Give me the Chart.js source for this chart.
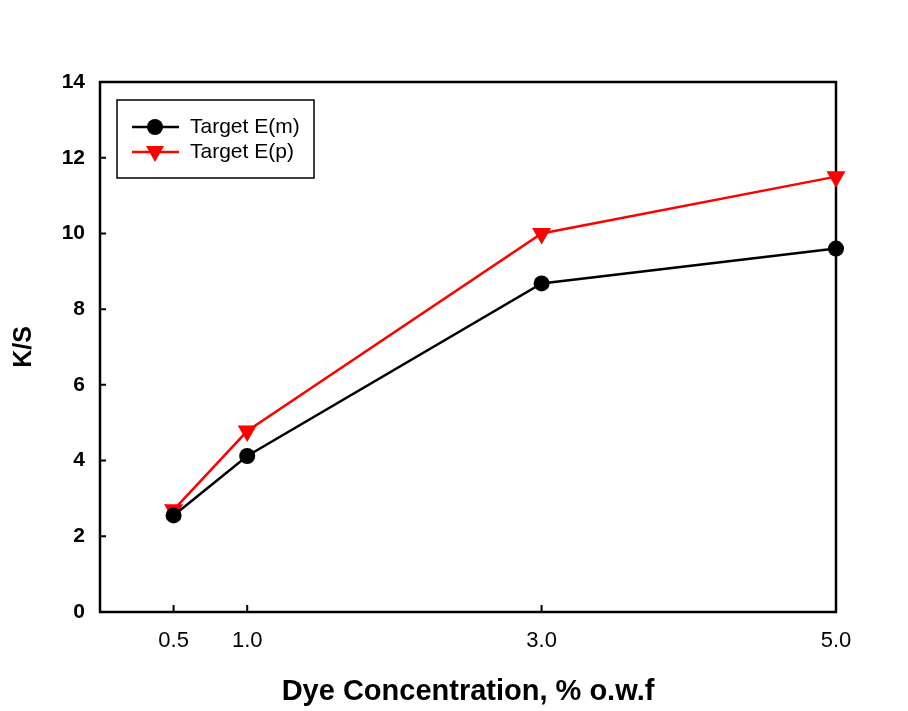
<!DOCTYPE html>
<html>
<head>
<meta charset="utf-8">
<script src="https://cdn.jsdelivr.net/npm/chart.js@4.4.0/dist/chart.umd.min.js"></script>
<style>
  html, body { margin: 0; padding: 0; background: #fff; }
  #wrap { width: 908px; height: 711px; }
</style>
</head>
<body>
<div id="wrap"><canvas id="c" width="908" height="711"></canvas></div>
<script>
// data
const concentrations = [0.5, 1.0, 3.0, 5.0];
const targetEm = [2.55, 4.12, 8.68, 9.6];
const targetEp = [2.7, 4.78, 10.0, 11.5];
const xTickValues = [0.5, 1.0, 3.0, 5.0];
const yTickValues = [0, 2, 4, 6, 8, 10, 12, 14];

const toPoints = (xs, ys) => xs.map((x, i) => ({ x: x, y: ys[i] }));

// frame, inward ticks and legend box
const framePlugin = {
    id: 'frame',
    beforeDatasetsDraw(chart) {
        const { ctx, chartArea: a, scales } = chart;
        ctx.save();
        ctx.strokeStyle = '#000';
        ctx.lineWidth = 2.5;
        ctx.strokeRect(a.left, a.top, a.right - a.left, a.bottom - a.top);

        ctx.lineWidth = 2;
        ctx.beginPath();
        xTickValues.forEach(v => {
            const px = scales.x.getPixelForValue(v);
            ctx.moveTo(px, a.bottom);
            ctx.lineTo(px, a.bottom - 7);
        });
        yTickValues.forEach(v => {
            const py = scales.y.getPixelForValue(v);
            ctx.moveTo(a.left, py);
            ctx.lineTo(a.left + 6, py);
        });
        ctx.stroke();
        ctx.restore();
    },
    afterDraw(chart) {
        const { ctx } = chart;
        ctx.save();
        // legend
        const lx = 117, ly = 100, lw = 197, lh = 78;
        ctx.strokeStyle = '#000';
        ctx.lineWidth = 1.5;
        ctx.strokeRect(lx, ly, lw, lh);
        ctx.font = '21px "Liberation Sans", Arial, sans-serif';
        ctx.textBaseline = 'middle';
        chart.data.datasets.forEach((ds, i) => {
            const y = ly + 27 + i * 25;
            ctx.strokeStyle = ds.borderColor;
            ctx.lineWidth = 2.5;
            ctx.beginPath();
            ctx.moveTo(lx + 15, y);
            ctx.lineTo(lx + 62, y);
            ctx.stroke();
            ctx.fillStyle = ds.backgroundColor;
            ctx.beginPath();
            if (ds.pointStyle === 'circle') {
                ctx.arc(lx + 38, y, 8, 0, Math.PI * 2);
            } else {
                ctx.moveTo(lx + 29, y - 6);
                ctx.lineTo(lx + 47, y - 6);
                ctx.lineTo(lx + 38, y + 10);
                ctx.closePath();
            }
            ctx.fill();
            ctx.fillStyle = '#000';
            ctx.fillText(ds.label, lx + 73, y);
        });
        ctx.restore();
    }
};

new Chart(document.getElementById('c'), {
    type: 'line',
    data: {
        datasets: [
            {
                label: 'Target E(m)',
                data: toPoints(concentrations, targetEm),
                borderColor: '#000000',
                backgroundColor: '#000000',
                borderWidth: 2.5,
                pointStyle: 'circle',
                pointRadius: 8,
                pointBorderWidth: 0,
                clip: false
            },
            {
                label: 'Target E(p)',
                data: toPoints(concentrations, targetEp),
                borderColor: '#ff0000',
                backgroundColor: '#ff0000',
                borderWidth: 2.5,
                pointStyle: 'triangle',
                rotation: 180,
                pointRadius: 11,
                pointBorderWidth: 0,
                clip: false
            }
        ]
    },
    options: {
        responsive: false,
        animation: false,
        layout: { padding: { left: 0, right: 72, top: 82, bottom: 0 } },
        plugins: { legend: { display: false }, tooltip: { enabled: false } },
        scales: {
            x: {
                type: 'linear',
                min: 0,
                max: 5,
                afterBuildTicks: s => { s.ticks = xTickValues.map(v => ({ value: v })); },
                afterFit: s => { s.height = 99; },
                grid: { display: false, drawTicks: false },
                border: { display: false },
                ticks: {
                    color: '#000',
                    padding: 16,
                    font: { family: '"Liberation Sans", Arial', size: 22 },
                    callback: v => v.toFixed(1),
                    maxRotation: 0
                },
                title: {
                    display: true,
                    text: 'Dye Concentration, % o.w.f',
                    color: '#000',
                    font: { family: '"Liberation Sans", Arial', size: 29, weight: 'bold' },
                    padding: { top: 18, bottom: 2 }
                }
            },
            y: {
                min: 0,
                max: 14,
                afterBuildTicks: s => { s.ticks = yTickValues.map(v => ({ value: v })); },
                afterFit: s => { s.width = 100; },
                grid: { display: false, drawTicks: false },
                border: { display: false },
                ticks: {
                    color: '#000',
                    padding: 15,
                    font: { family: '"Liberation Sans", Arial', size: 21, weight: 'bold' }
                },
                title: {
                    display: true,
                    text: 'K/S',
                    color: '#000',
                    font: { family: '"Liberation Sans", Arial', size: 25, weight: 'bold' },
                    padding: { top: 9, bottom: 0 }
                }
            }
        }
    },
    plugins: [framePlugin]
});
</script>
</body>
</html>
